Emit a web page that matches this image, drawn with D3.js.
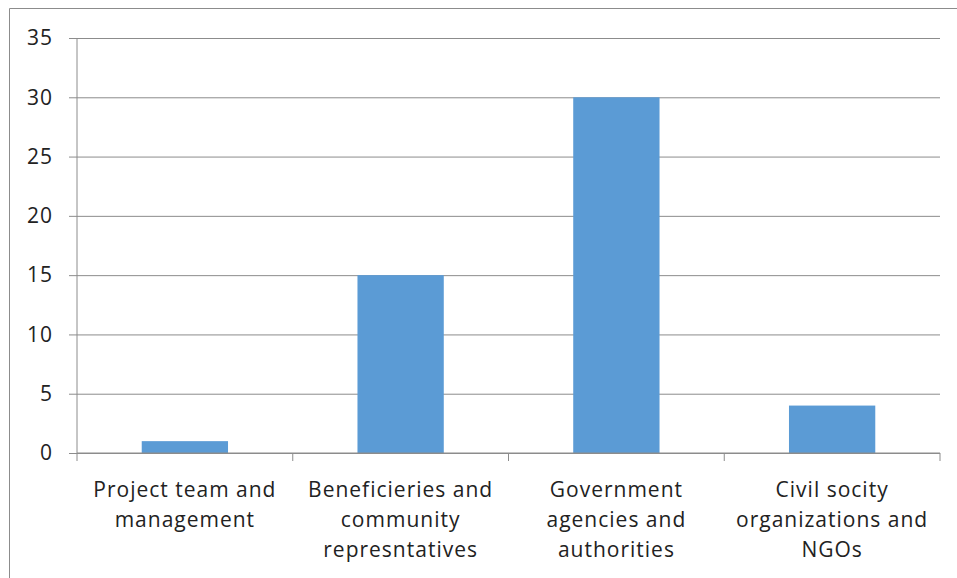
<!DOCTYPE html>
<html>
<head>
<meta charset="utf-8">
<script src="https://cdn.jsdelivr.net/npm/d3@7"></script>
<style>
  html, body { margin: 0; padding: 0; background: #fff; overflow: hidden; }
  svg { display: block; }
  svg text { font-family: "Open Sans", "Noto Sans", sans-serif; fill: #222; letter-spacing: 1px; }
</style>
</head>
<body>
<svg id="chart" width="957" height="578"></svg>
<script>
const categories = [
  ["Project team and", "management"],
  ["Beneficieries and", "community", "represntatives"],
  ["Government", "agencies and", "authorities"],
  ["Civil socity", "organizations and", "NGOs"]
];
const values = [1, 15, 30, 4];
const yTicks = [0, 5, 10, 15, 20, 25, 30, 35];

const svg = d3.select("#chart");
const margin = { top: 38, left: 77, right: 17, bottom: 125 };
const width = 957, height = 578;
const innerWidth = width - margin.left - margin.right;
const innerHeight = height - margin.top - margin.bottom;

// outer chart frame (only top and left edges are visible)
svg.append("line")
  .attr("x1", 9.5).attr("x2", width)
  .attr("y1", 8.5).attr("y2", 8.5)
  .attr("stroke", "#8c8c8c");
svg.append("line")
  .attr("x1", 9.5).attr("x2", 9.5)
  .attr("y1", 8.5).attr("y2", height)
  .attr("stroke", "#8c8c8c");

const g = svg.append("g")
  .attr("transform", `translate(${margin.left}, ${margin.top})`);

const xScale = d3.scaleBand()
  .domain(d3.range(categories.length))
  .range([0, innerWidth])
  .paddingInner(0.6)
  .paddingOuter(0.3);

const xGroups = d3.scaleBand()
  .domain(d3.range(categories.length))
  .range([0, innerWidth]);

const yScale = d3.scaleLinear()
  .domain([0, 35])
  .range([innerHeight, 0]);

// y axis with gridlines
const yAxis = d3.axisLeft(yScale)
  .tickValues(yTicks)
  .tickSize(-innerWidth)
  .tickPadding(24);

const yAxisG = g.append("g").call(yAxis);
yAxisG.select(".domain").remove();
yAxisG.selectAll(".tick line")
  .attr("x1", -8)
  .attr("stroke", "#8c8c8c");
yAxisG.selectAll(".tick text")
  .attr("font-size", 21)
  .attr("font-family", "Open Sans, Noto Sans, sans-serif")
  .attr("fill", "#222");

g.append("line")
  .attr("x1", 0).attr("x2", 0)
  .attr("y1", 0).attr("y2", innerHeight)
  .attr("stroke", "#8c8c8c");

// bars
g.selectAll("rect.bar")
  .data(values)
  .enter()
  .append("rect")
  .attr("class", "bar")
  .attr("x", (d, i) => xScale(i))
  .attr("width", xScale.bandwidth())
  .attr("y", d => yScale(d))
  .attr("height", d => innerHeight - yScale(d))
  .attr("fill", "#5b9bd5");

// x axis baseline and boundary ticks
const xAxisG = g.append("g")
  .attr("transform", `translate(0, ${innerHeight})`);
xAxisG.append("line")
  .attr("x1", 0).attr("x2", innerWidth)
  .attr("stroke", "#8c8c8c");
const bounds = d3.range(categories.length + 1).map(i =>
  i < categories.length ? xGroups(i) : innerWidth);
xAxisG.selectAll("line.bound")
  .data(bounds)
  .enter()
  .append("line")
  .attr("class", "bound")
  .attr("x1", d => d).attr("x2", d => d)
  .attr("y1", 0).attr("y2", 8)
  .attr("stroke", "#8c8c8c");

// category labels
const labels = xAxisG.selectAll("text.cat")
  .data(categories)
  .enter()
  .append("text")
  .attr("class", "cat")
  .attr("text-anchor", "middle")
  .attr("font-size", 21)
  .attr("transform", (d, i) => `translate(${xGroups(i) + xGroups.bandwidth() / 2}, 44)`);
labels.selectAll("tspan")
  .data(d => d)
  .enter()
  .append("tspan")
  .attr("x", 0)
  .attr("y", (d, i) => i * 30)
  .text(d => d);
</script>
</body>
</html>
